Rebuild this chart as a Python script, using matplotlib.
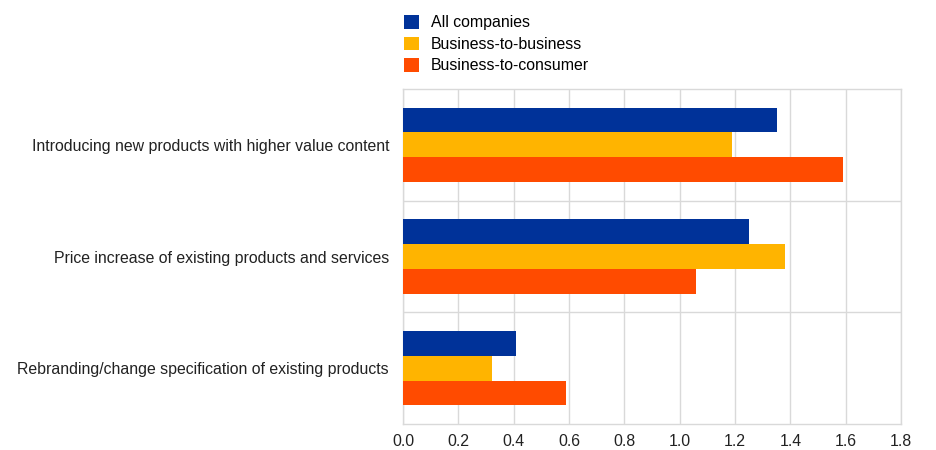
import numpy as np
import matplotlib
matplotlib.use('Agg')
import matplotlib.pyplot as plt

plt.rcParams['font.family'] = ['Liberation Sans', 'DejaVu Sans']

categories = ['Introducing new products with higher value content',
              'Price increase of existing products and services',
              'Rebranding/change specification of existing products']
series_names = ['All companies', 'Business-to-business', 'Business-to-consumer']
all_companies = [1.35, 1.25, 0.41]
b2b = [1.19, 1.38, 0.32]
b2c = [1.59, 1.06, 0.59]
x_ticks = [0.0, 0.2, 0.4, 0.6, 0.8, 1.0, 1.2, 1.4, 1.6, 1.8]

colors = ['#003299', '#FFB400', '#FF4B00']
grid_color = '#d9d9d9'
fs = 11.4

fig = plt.figure(figsize=(9.36, 4.5), dpi=100)
ax = fig.add_axes([403 / 936, 1 - 424 / 450, 498 / 936, 335 / 450])

y = np.arange(len(categories))
h = 0.221
for i, (vals, name) in enumerate(zip([all_companies, b2b, b2c], series_names)):
    ax.barh(y + (i - 1) * h, vals, height=h, color=colors[i], label=name, zorder=3)

ax.set_xlim(0, 1.8)
ax.set_ylim(2.5, -0.5)
ax.set_xticks(x_ticks)
ax.set_xticklabels([f'{t:.1f}' for t in x_ticks], fontsize=fs, color='#222222')
ax.set_yticks(y)
ax.set_yticklabels(categories, fontsize=fs, color='#222222')
ax.tick_params(axis='x', length=0, pad=7.5)
ax.tick_params(axis='y', length=0, pad=10)

ax.grid(axis='x', color=grid_color, linewidth=1, zorder=0)
for b in [0.5, 1.5]:
    ax.axhline(b, color=grid_color, linewidth=1, zorder=0)
for s in ax.spines.values():
    s.set_color(grid_color)
    s.set_linewidth(1)

fig.legend(loc='upper left', bbox_to_anchor=(404 / 936, 1 - 15 / 450), frameon=False,
           fontsize=fs, handlelength=0.95, handleheight=0.95, handletextpad=0.75,
           labelspacing=0.4, borderpad=0, borderaxespad=0)

plt.savefig('out.png', dpi=100)
